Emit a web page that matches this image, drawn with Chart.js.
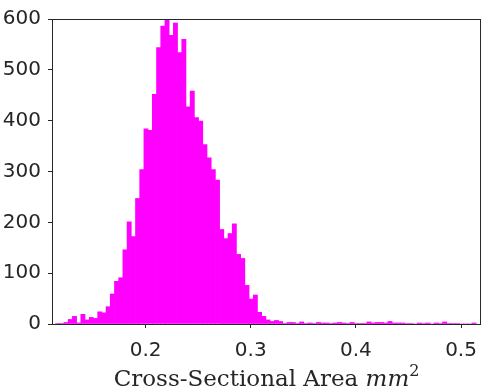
<!DOCTYPE html>
<html>
<head>
<meta charset="utf-8">
<script src="https://cdn.jsdelivr.net/npm/chart.js@4/dist/chart.umd.min.js"></script>
<style>
  html, body { margin: 0; padding: 0; background: #fff; }
  #wrap { width: 488px; height: 390px; }
</style>
</head>
<body>
<div id="wrap"><canvas id="histChart" width="488" height="390"></canvas></div>
<script>
// histogram bins (width 0.004 mm^2, first edge at 0.1144)
const binStart = 0.1144;
const binWidth = 0.004;
const counts = [
  1, 1, 3, 9, 15, 2, 19, 8, 13, 11,
  24, 22, 34, 59, 84, 91, 146, 201, 172, 247,
  304, 384, 381, 452, 544, 586, 598, 568, 592, 534,
  560, 427, 458, 406, 399, 353, 327, 304, 283, 186,
  168, 178, 197, 137, 129, 76, 49, 57, 23, 15,
  8, 5, 7, 5, 1, 3, 3, 1, 4, 1,
  2, 1, 3, 2, 2, 1, 2, 3, 2, 1,
  3, 1, 1, 1, 4, 2, 3, 3, 2, 5,
  2, 2, 2, 1, 1, 0, 2, 1, 2, 0,
  2, 1, 4, 1, 1, 1, 0, 0, 0, 2
];
const xTicks = [0.2, 0.3, 0.4, 0.5];
const yTicks = [0, 100, 200, 300, 400, 500, 600];

const axisColor = '#262626';

const points = counts.map((c, i) => ({ x: binStart + binWidth * (i + 0.5), y: c }));

// box around the axes + LaTeX-style x label
const frame = {
  id: 'frame',
  afterDraw(chart) {
    const { ctx, chartArea: a } = chart;
    ctx.save();
    ctx.strokeStyle = axisColor;
    ctx.lineWidth = 1;
    ctx.strokeRect(a.left + 0.5, a.top + 0.5, a.right - a.left - 1, a.bottom - a.top);

    const parts = [
      { t: 'Cross-Sectional Area ', f: '23px "DejaVu Serif"', dy: 0 },
      { t: 'mm', f: 'italic 23px "DejaVu Serif"', dy: 0 },
      { t: '2', f: '16px "DejaVu Serif"', dy: -10 }
    ];
    let total = 0;
    parts.forEach(p => { ctx.font = p.f; p.w = ctx.measureText(p.t).width; total += p.w; });
    let x = (a.left + a.right) / 2 - total / 2;
    const base = 386;
    ctx.fillStyle = axisColor;
    ctx.textBaseline = 'alphabetic';
    parts.forEach(p => {
      ctx.font = p.f;
      ctx.fillText(p.t, x, base + p.dy);
      x += p.w;
    });
    ctx.restore();
  }
};

const ctx = document.getElementById('histChart').getContext('2d');
const histChart = new Chart(ctx, {
  type: 'bar',
  data: {
    datasets: [{
      data: points,
      backgroundColor: '#ff00ff',
      borderWidth: 0,
      barPercentage: 1,
      categoryPercentage: 1
    }]
  },
  options: {
    responsive: false,
    animation: false,
    layout: { padding: { top: 8, right: 1, left: 0, bottom: 0 } },
    plugins: {
      legend: { display: false },
      tooltip: { enabled: false }
    },
    scales: {
      x: {
        type: 'linear',
        min: 0.111,
        max: 0.519,
        offset: false,
        afterFit: s => { s.height = 66; },
        afterBuildTicks: s => { s.ticks = xTicks.map(v => ({ value: v })); },
        grid: { offset: false, drawOnChartArea: false, tickLength: 4, color: axisColor },
        border: { display: false },
        ticks: {
          color: axisColor,
          font: { family: 'DejaVu Sans', size: 20 },
          padding: 11,
          maxRotation: 0,
          callback: v => v.toFixed(1)
        }
      },
      y: {
        min: 0,
        max: 600,
        afterFit: s => { s.width = 52; },
        afterBuildTicks: s => { s.ticks = yTicks.map(v => ({ value: v })); },
        grid: { drawOnChartArea: false, tickLength: 4, color: axisColor },
        border: { display: false },
        ticks: {
          color: axisColor,
          font: { family: 'DejaVu Sans', size: 20 },
          padding: 7
        }
      }
    }
  },
  plugins: [frame]
});
</script>
</body>
</html>
